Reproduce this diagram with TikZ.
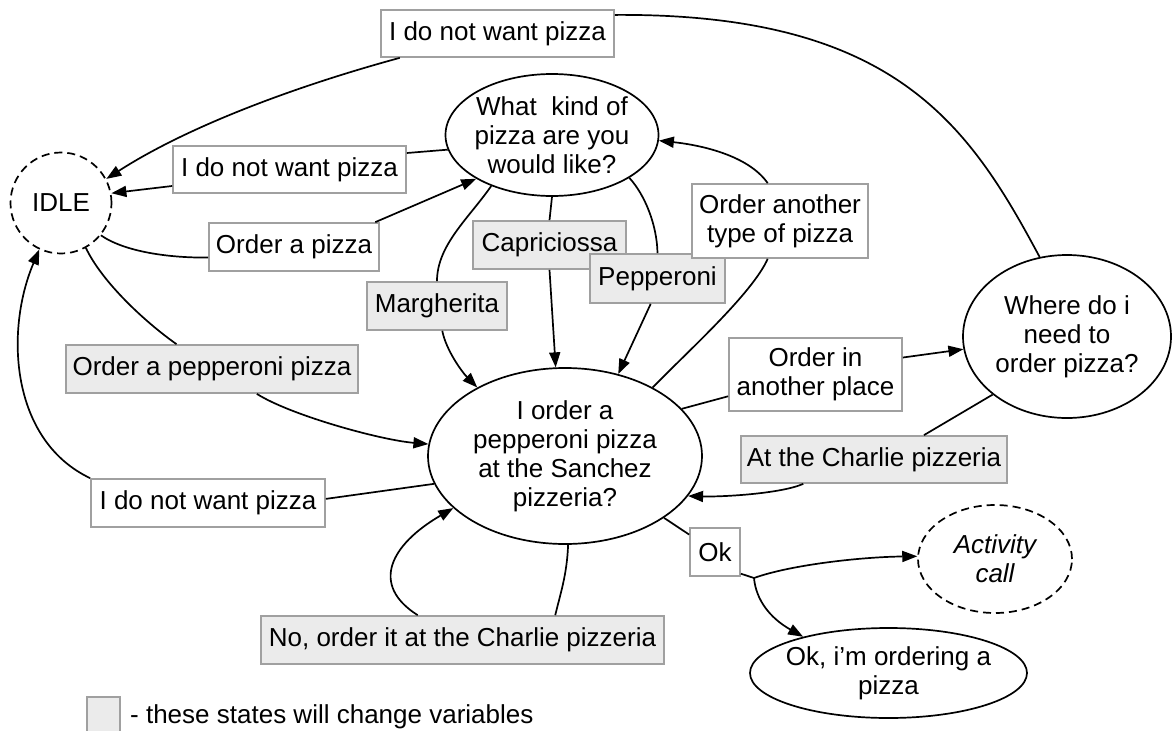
\documentclass[tikz,border=0pt]{standalone}
\usepackage{fontspec}
\setmainfont{Liberation Sans}
\usetikzlibrary{shapes.geometric,arrows.meta}
\definecolor{boxgray}{HTML}{A0A0A0}
\definecolor{fillgray}{HTML}{EBEBEB}
\begin{document}
\begin{tikzpicture}[x=1pt,y=-1pt,
  every node/.style={font=\fontsize{26}{29}\selectfont, align=center},
  lbl/.style={rectangle, draw=boxgray, line width=1.7pt, fill=white, inner sep=0pt},
  varlbl/.style={lbl, fill=fillgray},
  state/.style={ellipse, draw=black, line width=1.7pt, fill=white, inner sep=0pt},
  dstate/.style={state, dash pattern=on 8pt off 5pt},
  conn/.style={line width=1.7pt, draw=black},
  arr/.style={conn, -{Triangle[length=15pt,width=11pt]}},
]
\useasboundingbox (0,0) rectangle (1176,731);

% states
\node[dstate, circle, minimum size=101pt] (idle) at (61,203) {IDLE};
\node[state, minimum width=213pt, minimum height=122pt, inner xsep=-5pt] (what) at (552,135) {What\ \ kind of\\pizza are you\\would like?};
\node[state, minimum width=208pt, minimum height=163pt] (where) at (1067,336.5) {Where do i\\need to\\order pizza?};
\node[state, minimum width=274pt, minimum height=176pt] (big) at (565,456) {I order a\\pepperoni pizza\\at the Sanchez\\pizzeria?};
\node[dstate, minimum width=154pt, minimum height=108pt] (activity) at (995,559) {\itshape Activity\\\itshape call};
\node[state, minimum width=277pt, minimum height=90pt, inner xsep=-12pt] (ordering) at (888.5,673) {Ok, i’m ordering a\\pizza};

% labels
\node[lbl, minimum width=233pt, minimum height=47pt] (top) at (497.5,33.5) {I do not want pizza};
\node[lbl, minimum width=233pt, minimum height=47pt] (box2) at (289.5,169.5) {I do not want pizza};
\node[lbl, minimum width=170pt, minimum height=48pt] (orderp) at (294,247) {Order a pizza};
\node[varlbl, minimum width=153pt, minimum height=48pt] (capri) at (549.5,245) {Capriciossa};
\node[varlbl, minimum width=135pt, minimum height=49pt] (pepp) at (657.5,278.5) {Pepperoni};
\node[varlbl, minimum width=140pt, minimum height=48pt] (marg) at (437,306) {Margherita};
\node[lbl, minimum width=176pt, minimum height=74pt] (another) at (780,221) {Order another\\type of pizza};
\node[varlbl, minimum width=292pt, minimum height=48pt] (ordpep) at (212,369) {Order a pepperoni pizza};
\node[lbl, minimum width=173pt, minimum height=73pt] (inanother) at (815.5,374.5) {Order in\\another place};
\node[varlbl, minimum width=266pt, minimum height=47pt] (charlie) at (874,459.5) {At the Charlie pizzeria};
\node[lbl, minimum width=234pt, minimum height=48pt] (box3) at (208,503) {I do not want pizza};
\node[lbl, minimum width=50pt, minimum height=48pt] (ok) at (715,552) {Ok};
\node[varlbl, minimum width=403pt, minimum height=48pt] (noorder) at (462.5,640) {No, order it at the Charlie pizzeria};

% legend
\node[varlbl, minimum width=33pt, minimum height=35pt] (legendbox) at (103.5,714.5) {};
\node[anchor=base west, inner sep=0pt] (legendtext) at (130,723) {- these states will change variables};

\coordinate (junction) at (754,578);

% connectors
\draw[conn] (where.109) .. controls (969,125) and (895,13) .. (top.9);
\draw[arr] (top.194) .. controls (300,85) and (190,125) .. (idle.28);
\draw[conn] (what.188) -- (box2.8);
\draw[arr] (box2.188) -- (idle.11);
\draw[conn] (idle.-39) .. controls (125,252) and (170,258) .. (orderp.187);
\draw[arr] (orderp.17) -- (what.210);
\draw[conn] (what.220) .. controls (469,218) and (437,245) .. (marg.north);
\draw[arr] (marg.-78) .. controls (446,350) and (462,372) .. (big.142);
\draw[conn] (what.south) -- (capri.north);
\draw[arr] (capri.south) -- (big.96);
\draw[conn] (what.-29) .. controls (645,195) and (657,225) .. (pepp.north);
\draw[arr] (pepp.255) -- (big.57);
\draw[conn] (big.38) .. controls (686,353) and (752,294) .. (another.252);
\draw[arr] (another.108) .. controls (748,155) and (700,145) .. (what.-3);
\draw[conn] (idle.-61) .. controls (102,282) and (145,322) .. (ordpep.145);
\draw[arr] (ordpep.-29) .. controls (290,415) and (380,440) .. (big.175);
\draw[conn] (big.192) -- (box3.2);
\draw[arr] (box3.north west) .. controls (10,440) and (5,330) .. (idle.-115);
\draw[conn] (big.22) -- (inanother.194);
\draw[arr] (inanother.11) -- (where.187);
\draw[conn] (where.218) -- (charlie.26);
\draw[arr] (charlie.199) .. controls (780,494) and (720,497) .. (big.-18);
\draw[conn] (big.-88) .. controls (567,575) and (560,595) .. (noorder.15);
\draw[arr] (noorder.151) .. controls (370,585) and (390,545) .. (big.205);
\draw[conn] (big.-32) -- (ok.146);
\draw[conn] (ok.-40) -- (junction);
\draw[arr] (junction) .. controls (790,565) and (860,557) .. (activity.178);
\draw[arr] (junction) .. controls (756,600) and (770,618) .. (ordering.157);
\end{tikzpicture}
\end{document}
